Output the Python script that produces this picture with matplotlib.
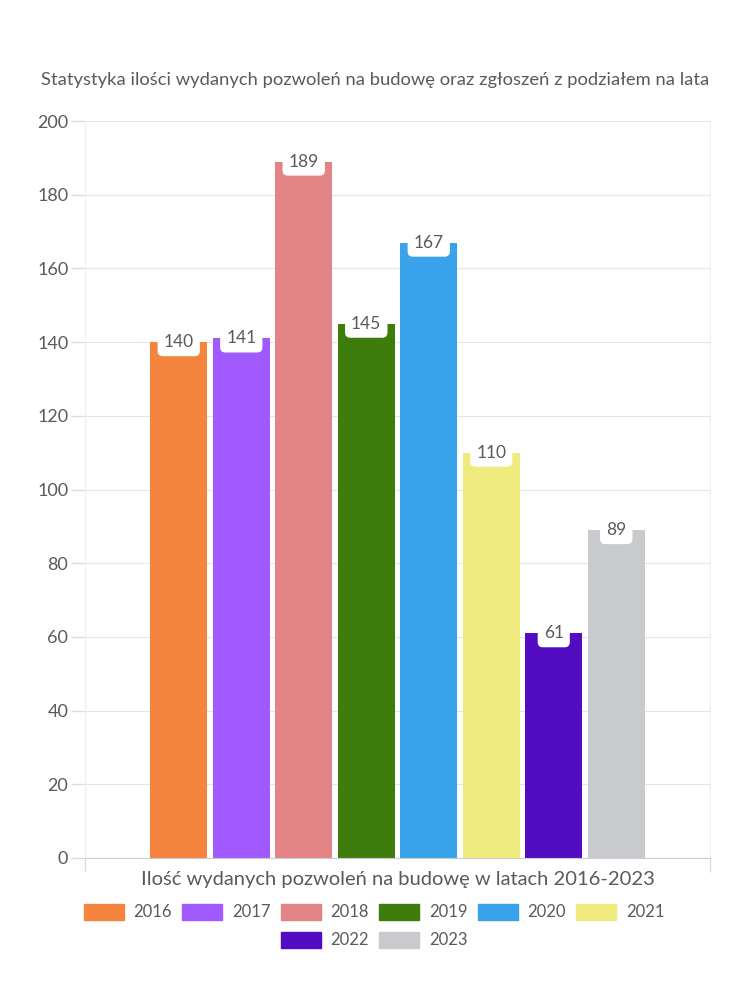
import matplotlib.pyplot as plt
from matplotlib.patches import Patch

years = ['2016', '2017', '2018', '2019', '2020', '2021', '2022', '2023']
permits = [140, 141, 189, 145, 167, 110, 61, 89]
colors = ['#F5843F', '#A05AFF', '#E28485', '#3E7D0B',
          '#38A2EA', '#F0EB7E', '#520CC2', '#C9CACE']

plt.rcParams['font.family'] = ['Lato', 'DejaVu Sans']
txt = '#5a5a5a'

fig = plt.figure(figsize=(7.5, 10), dpi=100)
ax = fig.add_axes([85 / 750, 1 - 858 / 1000, 625 / 750, 737 / 1000])

x = list(range(len(years)))
ax.bar(x, permits, width=0.91, color=colors, zorder=2)
for xi, v in zip(x, permits):
    ax.text(xi, v, str(v), ha='center', va='center', fontsize=12.5,
            color=txt, zorder=3,
            bbox=dict(boxstyle='round,pad=0.35,rounding_size=0.3',
                      fc='white', ec='none'))

ax.set_xlim(-1.5, 8.5)
ax.set_ylim(0, 200)
ax.set_yticks(range(0, 201, 20))
ax.set_xticks([-1.5, 8.5])
ax.set_xticklabels([])
ax.tick_params(axis='x', length=10, color='#dddddd', width=1)
ax.tick_params(axis='y', length=10, color='#dddddd', width=1,
               labelsize=13, labelcolor=txt, pad=2)
ax.grid(axis='y', color='#e6e6e6', lw=0.8, zorder=0)
for s in ['left', 'right', 'top']:
    ax.spines[s].set_color('#eeeeee')
ax.spines['top'].set_visible(False)
ax.spines['bottom'].set_color('#cccccc')

fig.text(375 / 750, 1 - 80 / 1000,
         'Statystyka ilości wydanych pozwoleń na budowę oraz zgłoszeń z podziałem na lata',
         ha='center', va='center', fontsize=13.2, color=txt)
fig.text(398 / 750, 1 - 880 / 1000,
         'Ilość wydanych pozwoleń na budowę w latach 2016-2023',
         ha='center', va='center', fontsize=14.5, color=txt)

handles = [Patch(color=c, label=y) for c, y in zip(colors, years)]
kw = dict(frameon=False, fontsize=12, handlelength=2.4, handleheight=1.1,
          columnspacing=0.6, handletextpad=0.6, labelcolor=txt,
          borderpad=0, borderaxespad=0)
fig.legend(handles=handles[:6], ncol=6, loc='center',
           bbox_to_anchor=(374 / 750, 1 - 912 / 1000), **kw)
fig.legend(handles=handles[6:], ncol=2, loc='center',
           bbox_to_anchor=(374 / 750, 1 - 940 / 1000), **kw)

fig.savefig('out.png', dpi=100, facecolor='white')
